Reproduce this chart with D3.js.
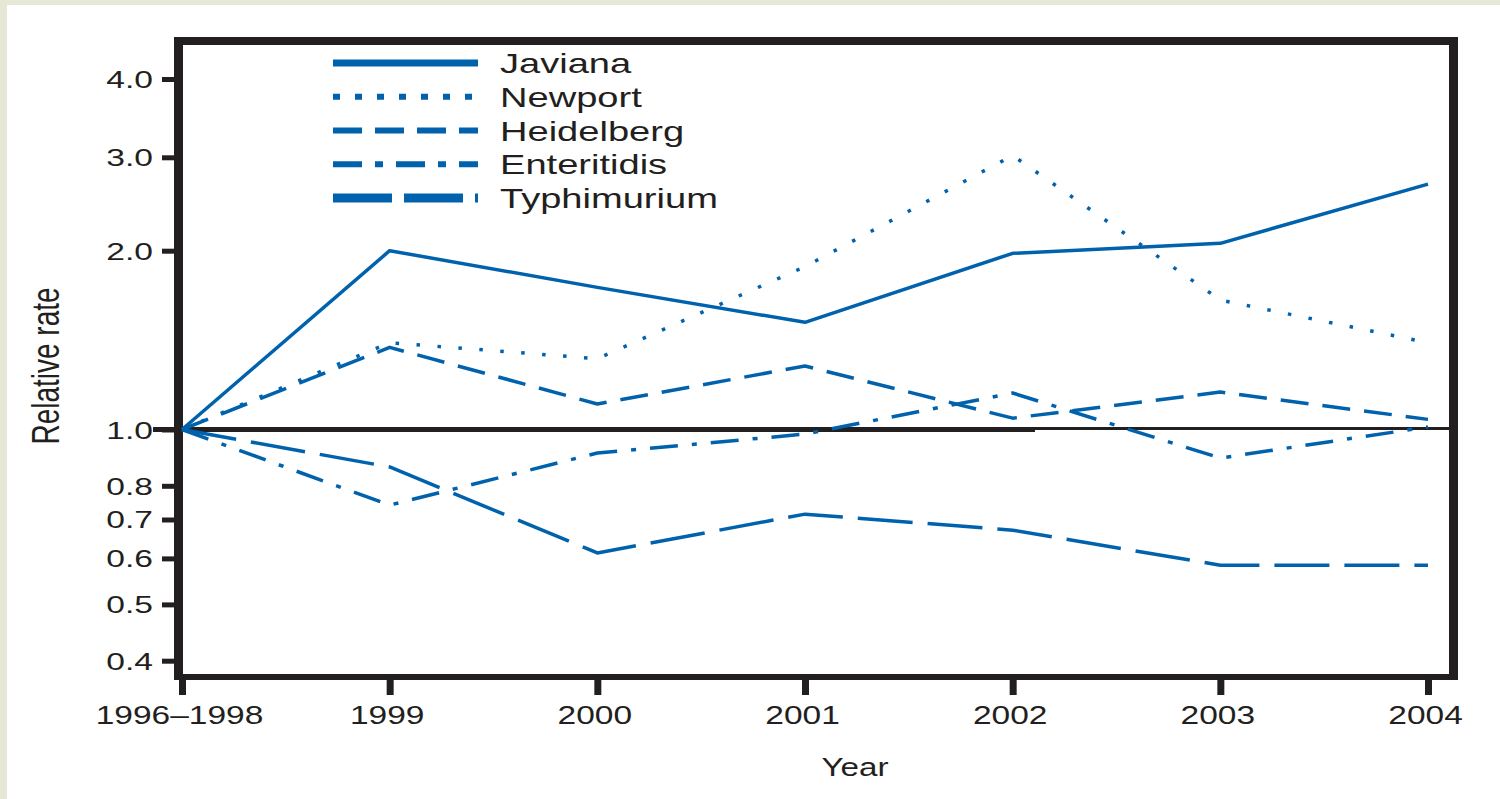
<!DOCTYPE html>
<html>
<head>
<meta charset="utf-8">
<script src="https://cdn.jsdelivr.net/npm/d3@7/dist/d3.min.js"></script>
<style>
  html, body { margin: 0; padding: 0; background: #ffffff; }
  svg { display: block; }
  text { font-family: "Liberation Sans", Arial, Helvetica, sans-serif; fill: #231f20; }
</style>
</head>
<body>
<svg id="chart" width="1500" height="799"></svg>
<script>
// Relative rates of Salmonella serotypes, compared with the 1996–1998 baseline
const categories = ["1996–1998", "1999", "2000", "2001", "2002", "2003", "2004"];
const javiana     = [1.0, 2.0,   1.735, 1.515, 1.98,  2.065, 2.67];
const newport     = [1.0, 1.40,  1.316, 1.88,  3.02,  1.652, 1.40];
const heidelberg  = [1.0, 1.375, 1.104, 1.279, 1.045, 1.156, 1.04];
const enteritidis = [1.0, 0.741, 0.911, 0.982, 1.152, 0.893, 1.01];
const typhimurium = [1.0, 0.862, 0.613, 0.715, 0.671, 0.584, 0.584];
const seriesNames = ["Javiana", "Newport", "Heidelberg", "Enteritidis", "Typhimurium"];
const yTickValues = [0.4, 0.5, 0.6, 0.7, 0.8, 1.0, 2.0, 3.0, 4.0];

const BLUE = "#0062ac";
const INK = "#231f20";

// line styles: dash pattern in the plot and in the key
const styles = {
  Javiana:     { plot: null,          key: null,          keyWidth: 7 },
  Newport:     { plot: "3.5,17.5",    key: "7,15",        keyWidth: 6 },
  Heidelberg:  { plot: "28,14",       key: "29,13",       keyWidth: 6 },
  Enteritidis: { plot: "28,14,5,14",  key: "29,13,8,13",  keyWidth: 6 },
  Typhimurium: { plot: "55,15",       key: "59,12",       keyWidth: 9 }
};
const valuesByName = {
  Javiana: javiana, Newport: newport, Heidelberg: heidelberg,
  Enteritidis: enteritidis, Typhimurium: typhimurium
};

const svg = d3.select("#chart");

// textured paper edge along the top and left
svg.append("rect").attr("x", 0).attr("y", 0).attr("width", 1500).attr("height", 5).attr("fill", "#e6e7d5");
svg.append("rect").attr("x", 0).attr("y", 0).attr("width", 7).attr("height", 799).attr("fill", "#e6e7d5");

// frame of the plotting area
const frame = { left: 178.5, right: 1453.5, top: 41, bottom: 677 };

const x = d3.scalePoint().domain(categories).range([182, 1428]);
// log axis, piecewise between labelled ticks
const y = d3.scaleLog().domain([0.4, 1, 2, 3, 4]).range([660.7, 429.5, 250.7, 157.3, 79]);

// reference line at 1.0 (heavier on its left part)
svg.append("line")
  .attr("x1", 153).attr("x2", 1035)
  .attr("y1", y(1)).attr("y2", y(1))
  .attr("stroke", INK).attr("stroke-width", 5);
svg.append("line")
  .attr("x1", 1035).attr("x2", frame.right - 4)
  .attr("y1", y(1) - 1).attr("y2", y(1) - 1)
  .attr("stroke", INK).attr("stroke-width", 3);

// frame sides
const sides = [
  { x1: frame.left, y1: frame.top - 4, x2: frame.left, y2: frame.bottom + 3, w: 9 },
  { x1: frame.left - 4.5, y1: frame.top, x2: frame.right + 4.5, y2: frame.top, w: 8 },
  { x1: frame.right, y1: frame.top - 4, x2: frame.right, y2: frame.bottom + 3, w: 9 },
  { x1: frame.left - 4.5, y1: frame.bottom, x2: frame.right + 4.5, y2: frame.bottom, w: 6 }
];
svg.selectAll("line.side").data(sides).join("line")
  .attr("class", "side")
  .attr("x1", d => d.x1).attr("y1", d => d.y1)
  .attr("x2", d => d.x2).attr("y2", d => d.y2)
  .attr("stroke", INK).attr("stroke-width", d => d.w);

// y axis
const yAxis = d3.axisLeft(y).tickValues(yTickValues).tickFormat(d3.format(".1f")).tickSize(12).tickPadding(0);
const gy = svg.append("g").attr("transform", `translate(${frame.left - 4.5},0)`).call(yAxis);
gy.select(".domain").remove();
gy.selectAll(".tick line").attr("stroke", INK).attr("stroke-width", 5);
gy.selectAll(".tick text")
  .attr("x", null).attr("dy", null)
  .attr("text-anchor", "end")
  .attr("transform", "translate(-21,8.5) scale(1.4,1)")
  .style("font-size", "24px");

// x axis
const xAxis = d3.axisBottom(x).tickSize(15).tickPadding(0);
const gx = svg.append("g").attr("transform", `translate(0,${frame.bottom + 3})`).call(xAxis);
gx.select(".domain").remove();
gx.selectAll(".tick line").attr("stroke", INK).attr("stroke-width", 7);
gx.selectAll(".tick text")
  .attr("y", null).attr("dy", null)
  .attr("text-anchor", "middle")
  .attr("transform", "translate(-3,44) scale(1.34,1)")
  .style("font-size", "25px");

// axis titles
svg.append("text")
  .attr("transform", "translate(855,776) scale(1.33,1)")
  .attr("text-anchor", "middle")
  .style("font-size", "25px")
  .text("Year");
svg.append("text")
  .attr("transform", "translate(59,366) scale(1.4,1) rotate(-90)")
  .attr("text-anchor", "middle")
  .style("font-size", "28px")
  .text("Relative rate");

// series lines
const line = d3.line()
  .x((d, i) => x(categories[i]))
  .y(d => y(d));

svg.append("g").selectAll("path.series").data(seriesNames).join("path")
  .attr("class", "series")
  .attr("d", n => line(valuesByName[n]))
  .attr("fill", "none")
  .attr("stroke", BLUE)
  .attr("stroke-width", 3.5)
  .attr("stroke-linejoin", "round")
  .attr("stroke-dasharray", n => styles[n].plot);

// key
const key = svg.append("g").attr("class", "key");
const keyRow = d3.scaleBand().domain(seriesNames).range([46, 215]);
const rows = key.selectAll("g").data(seriesNames).join("g")
  .attr("transform", n => `translate(0,${keyRow(n) + keyRow.bandwidth() / 2})`);
rows.append("line")
  .attr("x1", 333).attr("x2", 478).attr("y1", 0).attr("y2", 0)
  .attr("stroke", BLUE)
  .attr("stroke-width", n => styles[n].keyWidth)
  .attr("stroke-dasharray", n => styles[n].key);
rows.append("text")
  .attr("transform", "translate(500,10) scale(1.36,1)")
  .style("font-size", "28px")
  .text(n => n);
</script>
</body>
</html>
